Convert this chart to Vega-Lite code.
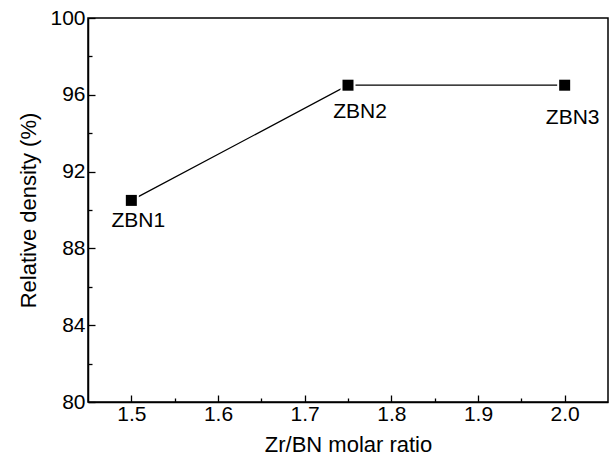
{
  "$schema": "https://vega.github.io/schema/vega-lite/v6.json",
  "width": 520,
  "height": 384,
  "autosize": "none",
  "padding": {"left": 88, "top": 18, "right": 5, "bottom": 68},
  "background": "white",
  "config": {
    "view": {"stroke": "black", "strokeWidth": 1.5},
    "font": "Liberation Sans",
    "axis": {
      "grid": false,
      "domainColor": "black",
      "domainWidth": 1.5,
      "tickColor": "black",
      "tickWidth": 1.3,
      "labelColor": "black",
      "titleColor": "black",
      "labelFont": "Liberation Sans",
      "titleFont": "Liberation Sans",
      "labelFontSize": 21,
      "titleFontSize": 22,
      "titleFontWeight": "normal"
    }
  },
  "data": {"values": [
    {"ratio": 1.5, "density": 90.5, "label": "ZBN1"},
    {"ratio": 1.75, "density": 96.5, "label": "ZBN2"},
    {"ratio": 2.0, "density": 96.5, "label": "ZBN3"}
  ]},
  "encoding": {
    "x": {"field": "ratio", "type": "quantitative", "scale": {"domain": [1.45, 2.05], "nice": false, "zero": false}, "axis": null},
    "y": {"field": "density", "type": "quantitative", "scale": {"domain": [80, 100], "nice": false, "zero": false}, "axis": null}
  },
  "layer": [
    {
      "mark": {"type": "line", "color": "black", "strokeWidth": 1.3},
      "encoding": {
        "x": {"field": "ratio", "type": "quantitative", "axis": {"orient": "bottom", "values": [1.55, 1.65, 1.75, 1.85, 1.95], "labels": false, "domain": false, "tickSize": -4, "title": null}},
        "y": {"field": "density", "type": "quantitative", "axis": {"orient": "left", "values": [82, 86, 90, 94, 98], "labels": false, "domain": false, "tickSize": -4, "title": null}}
      }
    },
    {
      "mark": {"type": "square", "color": "black", "filled": true, "size": 121, "stroke": "white", "strokeWidth": 4, "opacity": 1},
      "encoding": {
        "x": {"field": "ratio", "type": "quantitative", "axis": {"orient": "bottom", "values": [1.5, 1.6, 1.7, 1.8, 1.9, 2.0], "format": ".1f", "tickSize": -7, "labelPadding": 8, "title": "Zr/BN molar ratio", "titlePadding": 10}},
        "y": {"field": "density", "type": "quantitative", "axis": {"orient": "left", "values": [80, 84, 88, 92, 96, 100], "tickSize": -7, "labelPadding": 10, "title": "Relative density (%)", "titlePadding": 9}}
      }
    },
    {
      "mark": {"type": "square", "color": "black", "filled": true, "size": 121, "opacity": 1}
    },
    {
      "transform": [{"filter": "datum.label === 'ZBN1'"}],
      "mark": {"type": "text", "fontSize": 21, "dy": 21, "dx": 7, "color": "black", "font": "Liberation Sans"},
      "encoding": {"text": {"field": "label"}}
    },
    {
      "transform": [{"filter": "datum.label === 'ZBN2'"}],
      "mark": {"type": "text", "fontSize": 21, "dy": 27, "dx": 12, "color": "black", "font": "Liberation Sans"},
      "encoding": {"text": {"field": "label"}}
    },
    {
      "transform": [{"filter": "datum.label === 'ZBN3'"}],
      "mark": {"type": "text", "fontSize": 21, "dy": 33, "dx": 8, "color": "black", "font": "Liberation Sans"},
      "encoding": {"text": {"field": "label"}}
    }
  ],
  "resolve": {"axis": {"x": "independent", "y": "independent"}}
}
